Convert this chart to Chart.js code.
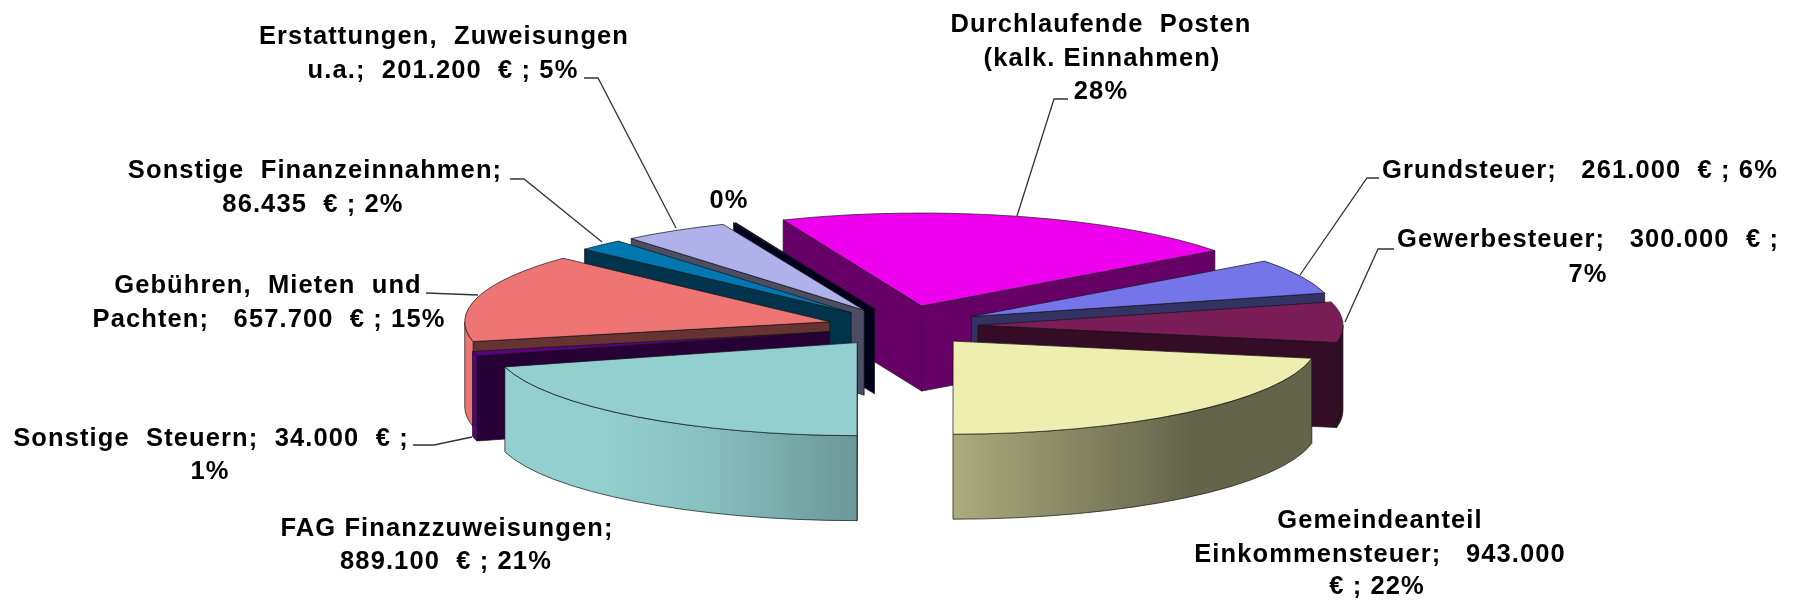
<!DOCTYPE html>
<html><head><meta charset="utf-8">
<style>html,body{margin:0;padding:0;background:#fff}canvas{display:block;filter:blur(.45px)}</style>
<script src="https://cdn.jsdelivr.net/npm/chart.js@4/dist/chart.umd.min.js"></script>
</head><body>
<canvas id="c" width="1795" height="602"></canvas>
<script>
const categories = ['Durchlaufende Posten (kalk. Einnahmen)','Grundsteuer','Gewerbesteuer','Gemeindeanteil Einkommensteuer','FAG Finanzzuweisungen','Sonstige Steuern','Gebühren, Mieten und Pachten','Sonstige Finanzeinnahmen','Erstattungen, Zuweisungen u.a.','Sonstige'];
const values = [900000,261000,300000,943000,889100,34000,657700,86435,201200,5000];
const topColors = [[238,0,238],[117,117,234],[122,28,86],[238,238,176],[147,207,207],[91,0,126],[239,117,117],[0,119,176],[176,176,234],[0,0,64]];
const nudges = [[-3,-2],[-2,-2],[-3,-1],[0,-1],[0,0],[0,0],[0,0],[0,0],[0,0],[0,0]];
const paintOrder = [0,9,8,7,6,5,4,1,2,3];
const labelLines = [
 ['Durchlaufende  Posten',1101,32],['(kalk. Einnahmen)',1102,66],['28%',1101,99],
 ['Grundsteuer;   261.000  € ; 6%',1580,178],
 ['Gewerbesteuer;   300.000  € ;',1588,247],['7%',1588,282],
 ['Gemeindeanteil',1380,528],['Einkommensteuer;   943.000',1380,562],['€ ; 22%',1377,594],
 ['FAG Finanzzuweisungen;',447,536],['889.100  € ; 21%',446,569],
 ['Sonstige  Steuern;  34.000  € ;',211,446],['1%',210,479],
 ['Gebühren,  Mieten  und',268,293],['Pachten;   657.700  € ; 15%',269,327],
 ['Sonstige  Finanzeinnahmen;',315,178],['86.435  € ; 2%',313,212],
 ['Erstattungen,  Zuweisungen',444,44],['u.a.;  201.200  € ; 5%',443,78],
 ['0%',729,208]
];
const leaders = [
 [[1068,99],[1054,99],[1017,216]],
 [[1379,178],[1367,178],[1300,275]],
 [[1394,249],[1378,249],[1345,322]],
 [[413,445],[434,445],[472,437]],
 [[426,293],[478,295]],
 [[510,179],[524,179],[602,242]],
 [[584,78],[598,78],[676,228]]
];
const RX = 365, SQUASH = 0.255, DEPTH = 85, EXPLODE = 77, SIDE = 0.43;
const shadeStops = [[0,1],[600,1],[700,.93],[860,.73],[953,.72],[1190,.42],[1795,.42]];
const rgb = (c,f) => `rgb(${c.map(v=>Math.round(v*f)).join(',')})`;

const pie3d = {
  id:'pie3d',
  beforeDatasetDraw(chart){
    const ctx = chart.ctx, arcs = chart.getDatasetMeta(0).data;
    paintOrder.forEach(i=>{
      const el = arcs[i], c = topColors[i];
      const s = el.startAngle, e = el.endAngle, m = (s+e)/2;
      const ry = RX*SQUASH, k = RX/el.outerRadius;
      const ox = el.x + EXPLODE*Math.cos(m) + nudges[i][0], oy = el.y + EXPLODE*SQUASH*Math.sin(m) + nudges[i][1];
      const px = a=>ox+RX*Math.cos(a), py = a=>oy+ry*Math.sin(a);
      ctx.save();
      ctx.lineWidth = 1; ctx.strokeStyle = 'rgba(20,20,20,.7)'; ctx.lineJoin='round';
      const face = a=>{
        ctx.beginPath(); ctx.moveTo(ox,oy); ctx.lineTo(px(a),py(a));
        ctx.lineTo(px(a),py(a)+DEPTH); ctx.lineTo(ox,oy+DEPTH); ctx.closePath();
        ctx.fillStyle = rgb(c,SIDE); ctx.fill(); ctx.stroke();
      };
      if(Math.cos(s)<0) face(s);
      if(Math.cos(e)>1e-6) face(e);
      const grad = ctx.createLinearGradient(0,0,1795,0);
      shadeStops.forEach(([x,f])=>grad.addColorStop(x/1795,rgb(c,f)));
      [-2,0,2].forEach(n=>{
        const a0 = Math.max(s,n*Math.PI), a1 = Math.min(e,(n+1)*Math.PI);
        if(a1<=a0) return;
        ctx.beginPath();
        ctx.ellipse(ox,oy,RX,ry,0,a0,a1);
        ctx.lineTo(px(a1),py(a1)+DEPTH);
        ctx.ellipse(ox,oy+DEPTH,RX,ry,0,a1,a0,true);
        ctx.closePath();
        ctx.fillStyle = grad; ctx.fill(); ctx.stroke();
      });
      ctx.save();
      ctx.translate(ox,oy); ctx.scale(k,k*SQUASH); ctx.translate(-el.x,-el.y);
      el.draw(ctx);
      ctx.restore();
      ctx.beginPath(); ctx.moveTo(ox,oy); ctx.ellipse(ox,oy,RX,ry,0,s,e); ctx.closePath(); ctx.stroke();
      ctx.restore();
    });
    return false;
  },
  afterDraw(chart){
    const ctx = chart.ctx;
    ctx.save();
    ctx.strokeStyle = '#333'; ctx.lineWidth = 1.3;
    leaders.forEach(l=>{ctx.beginPath();l.forEach(([x,y],j)=>j?ctx.lineTo(x,y):ctx.moveTo(x,y));ctx.stroke();});
    ctx.fillStyle = '#000'; ctx.font = 'bold 25.5px "Liberation Sans"'; ctx.letterSpacing='1.1px'; ctx.textAlign='center'; ctx.textBaseline='alphabetic';
    labelLines.forEach(([t,x,y])=>ctx.fillText(t,x,y));
    ctx.restore();
  }
};

new Chart(document.getElementById('c'),{
  type:'pie',
  data:{labels:categories,datasets:[{data:values,backgroundColor:topColors.map(c=>rgb(c,1)),borderWidth:0}]},
  options:{
    responsive:false,animation:false,events:[],rotation:-22.3,
    layout:{padding:{left:13,top:52}},
    plugins:{legend:{display:false},tooltip:{enabled:false}}
  },
  plugins:[pie3d]
});
</script>
</body></html>
